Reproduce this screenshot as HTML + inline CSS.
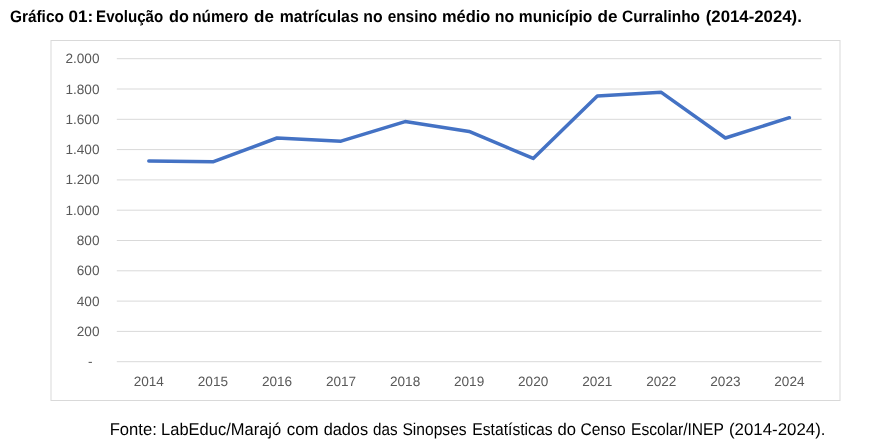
<!DOCTYPE html>
<html><head><meta charset="utf-8">
<style>
html,body{margin:0;padding:0;background:#fff;}
body{text-rendering:geometricPrecision;width:874px;height:447px;overflow:hidden;position:relative;font-family:"Liberation Sans",sans-serif;}
svg{position:absolute;left:0;top:0;will-change:transform;}
svg text{text-rendering:geometricPrecision;font-family:"Liberation Sans",sans-serif;font-size:13.6px;fill:#595959;}
svg .title text{font-size:16.6px;font-weight:bold;fill:#000;}
svg .foot text{font-size:17px;fill:#000;}
</style></head><body>
<svg width="874" height="447" viewBox="0 0 874 447">
<rect x="51" y="40.5" width="789" height="360" fill="#fff" stroke="#D9D9D9" stroke-width="1"/>
<g stroke="#D9D9D9" stroke-width="1" fill="none">
<line x1="116.8" x2="821.6" y1="58.70" y2="58.70"/>
<line x1="116.8" x2="821.6" y1="89.00" y2="89.00"/>
<line x1="116.8" x2="821.6" y1="119.30" y2="119.30"/>
<line x1="116.8" x2="821.6" y1="149.60" y2="149.60"/>
<line x1="116.8" x2="821.6" y1="179.90" y2="179.90"/>
<line x1="116.8" x2="821.6" y1="210.20" y2="210.20"/>
<line x1="116.8" x2="821.6" y1="240.50" y2="240.50"/>
<line x1="116.8" x2="821.6" y1="270.80" y2="270.80"/>
<line x1="116.8" x2="821.6" y1="301.10" y2="301.10"/>
<line x1="116.8" x2="821.6" y1="331.40" y2="331.40"/>
<line x1="116.8" x2="821.6" y1="361.70" y2="361.70"/>
</g>
<g text-anchor="end">
<text x="99.5" y="62.80">2.000</text>
<text x="99.5" y="93.50">1.800</text>
<text x="99.5" y="123.80">1.600</text>
<text x="99.5" y="154.10">1.400</text>
<text x="99.5" y="184.40">1.200</text>
<text x="99.5" y="214.70">1.000</text>
<text x="99.5" y="245.00">800</text>
<text x="99.5" y="275.30">600</text>
<text x="99.5" y="305.60">400</text>
<text x="99.5" y="335.90">200</text>
<text x="92.5" y="366.0">-</text>
</g>
<g text-anchor="middle">
<text x="148.8" y="385.7">2014</text>
<text x="212.9" y="385.7">2015</text>
<text x="277.0" y="385.7">2016</text>
<text x="341.0" y="385.7">2017</text>
<text x="405.1" y="385.7">2018</text>
<text x="469.1" y="385.7">2019</text>
<text x="533.2" y="385.7">2020</text>
<text x="597.3" y="385.7">2021</text>
<text x="661.3" y="385.7">2022</text>
<text x="725.4" y="385.7">2023</text>
<text x="789.4" y="385.7">2024</text>
</g>
<polyline fill="none" stroke="#4472C4" stroke-width="3.5" stroke-linecap="round" stroke-linejoin="round"
points="148.8,160.9 212.9,161.8 277.0,138.0 341.0,141.2 405.1,121.6 469.1,131.4 533.2,158.4 597.3,96.0 661.3,92.3 725.4,138.0 789.4,117.7"/>
<g class="title">
<text transform="translate(9.92 21.95) scale(0.9284 1)">Gráfico</text>
<text transform="translate(68.46 21.95) scale(1.0299 1)">01:</text>
<text transform="translate(96.08 21.95) scale(0.9097 1)">Evolução</text>
<text transform="translate(168.99 21.95) scale(0.9789 1)">do</text>
<text transform="translate(192.26 21.95) scale(0.9235 1)">número</text>
<text transform="translate(254.06 21.95) scale(1.0262 1)">de</text>
<text transform="translate(279.63 21.95) scale(0.9526 1)">matrículas</text>
<text transform="translate(363.33 21.95) scale(0.9514 1)">no</text>
<text transform="translate(387.72 21.95) scale(0.9244 1)">ensino</text>
<text transform="translate(441.99 21.95) scale(0.991 1)">médio</text>
<text transform="translate(494.82 21.95) scale(0.9568 1)">no</text>
<text transform="translate(518.84 21.95) scale(0.9383 1)">município</text>
<text transform="translate(597.46 21.95) scale(1.0317 1)">de</text>
<text transform="translate(622.02 21.95) scale(0.9295 1)">Curralinho</text>
<text transform="translate(705.71 21.95) scale(1.0118 1)">(2014-2024).</text>
</g>
<g class="foot">
<text transform="translate(109.65 435.0) scale(0.979 1)">Fonte:</text>
<text transform="translate(161.07 435.0) scale(0.97 1)">LabEduc/Marajó</text>
<text transform="translate(286.75 435.0) scale(0.995 1)">com</text>
<text transform="translate(323.68 435.0) scale(0.9578 1)">dados</text>
<text transform="translate(373.03 435.0) scale(0.8923 1)">das</text>
<text transform="translate(402.4 435.0) scale(0.9182 1)">Sinopses</text>
<text transform="translate(472.23 435.0) scale(0.9237 1)">Estatísticas</text>
<text transform="translate(557.47 435.0) scale(0.9771 1)">do</text>
<text transform="translate(580.5 435.0) scale(0.9179 1)">Censo</text>
<text transform="translate(631.04 435.0) scale(0.9193 1)">Escolar/INEP</text>
<text transform="translate(729.01 435.0) scale(0.991 1)">(2014-2024).</text>
</g>
</svg>
</body></html>
